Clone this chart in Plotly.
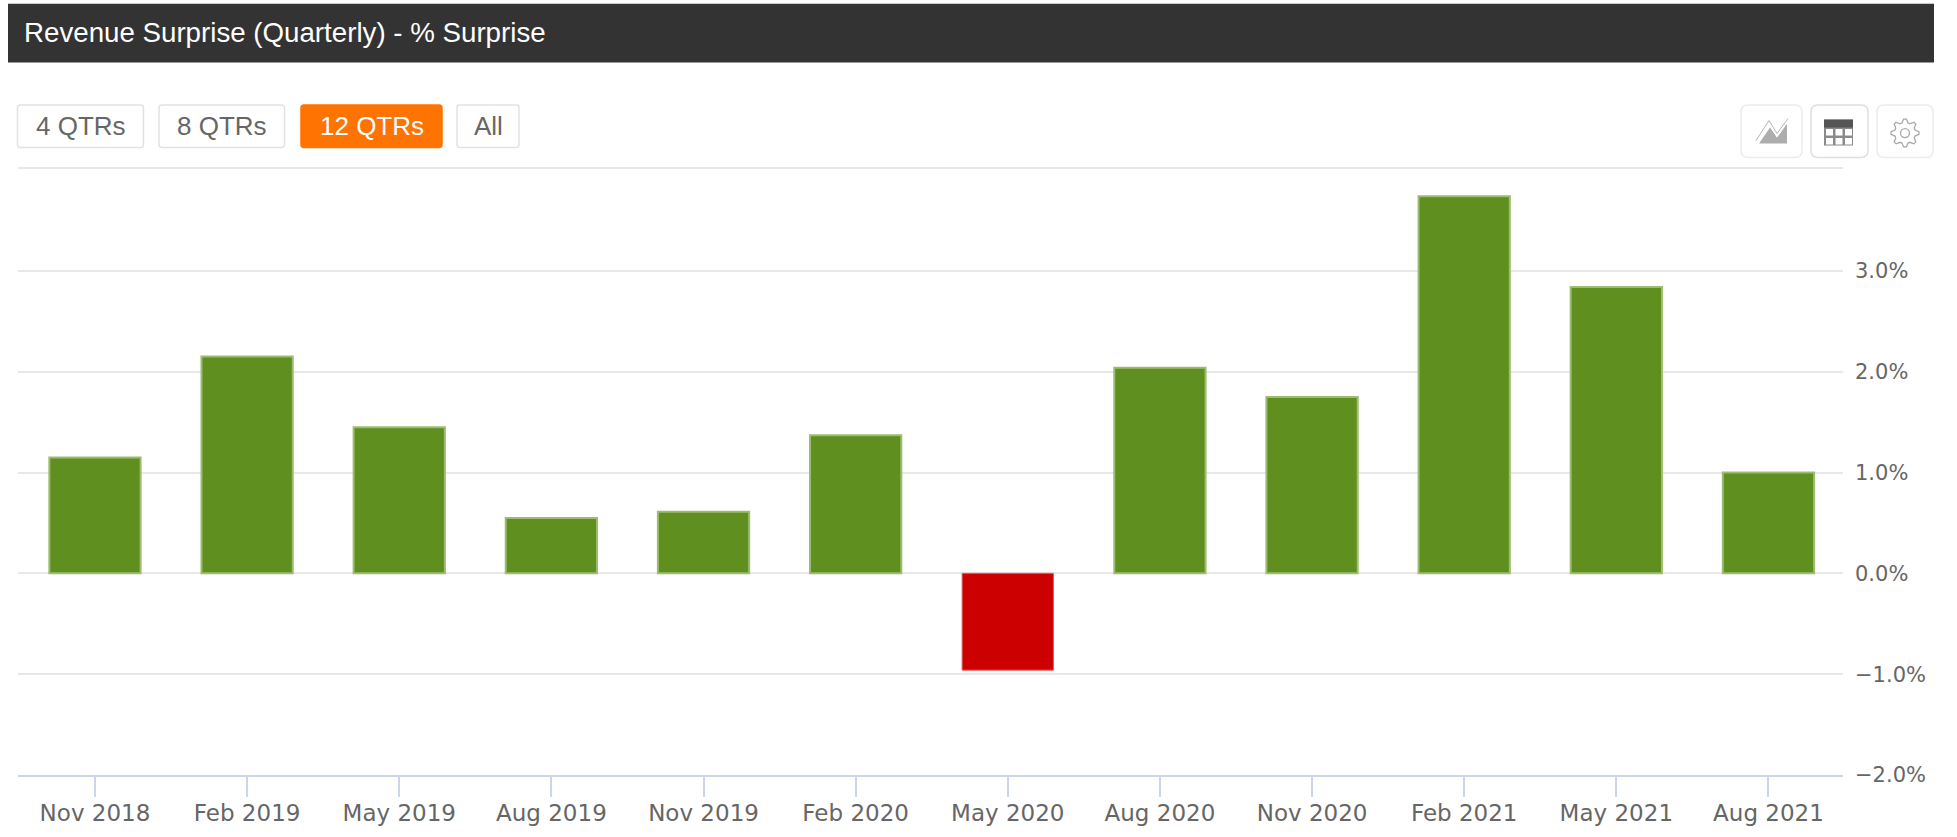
import math
import plotly.graph_objects as go

quarters = ["Nov 2018", "Feb 2019", "May 2019", "Aug 2019", "Nov 2019", "Feb 2020",
            "May 2020", "Aug 2020", "Nov 2020", "Feb 2021", "May 2021", "Aug 2021"]
surprise = [1.15, 2.15, 1.45, 0.55, 0.61, 1.37, -0.96, 2.04, 1.75, 3.74, 2.84, 1.0]
y_ticks = [-2, -1, 0, 1, 2, 3]
y_labels = ["\u22122.0%", "\u22121.0%", "0.0%", "1.0%", "2.0%", "3.0%"]
buttons = ["4 QTRs", "8 QTRs", "12 QTRs", "All"]
title = "Revenue Surprise (Quarterly) - % Surprise"

W, H = 1957, 837
L, R, T, B = 18, 1843, 169.5, 775
px = lambda x: (x - L) / (R - L)
py = lambda y: (B - y) / (B - T)

GREEN, RED = "#5f8f1e", "#cc0000"
GRID = "#e8e8e8"
shapes, annotations = [], []

def rect(x0, y0, x1, y1, fill, line=None, width=0, r=0):
    X0, X1, Y0, Y1 = px(x0), px(x1), py(y0), py(y1)
    if r:
        rx, ry = r / (R - L), r / (B - T)
        path = (f"M{X0+rx},{Y0} L{X1-rx},{Y0} Q{X1},{Y0} {X1},{Y0-ry} L{X1},{Y1+ry} Q{X1},{Y1} {X1-rx},{Y1} "
                f"L{X0+rx},{Y1} Q{X0},{Y1} {X0},{Y1+ry} L{X0},{Y0-ry} Q{X0},{Y0} {X0+rx},{Y0} Z")
        shapes.append(dict(type="path", path=path, xref="paper", yref="paper", fillcolor=fill,
                           line=dict(color=line or fill, width=width), layer="below"))
    else:
        shapes.append(dict(type="rect", xref="paper", yref="paper", x0=X0, x1=X1, y0=Y0, y1=Y1,
                           fillcolor=fill, line=dict(color=line or fill, width=width), layer="below"))

def poly(points, fill, line=None, width=0):
    path = "M" + " L".join(f"{px(x)},{py(y)}" for x, y in points) + " Z"
    shapes.append(dict(type="path", path=path, xref="paper", yref="paper", fillcolor=fill,
                       line=dict(color=line or fill, width=width)))

def polyline(points, color, width):
    path = "M" + " L".join(f"{px(x)},{py(y)}" for x, y in points)
    shapes.append(dict(type="path", path=path, xref="paper", yref="paper",
                       line=dict(color=color, width=width)))

def text(x, y, s, size, color, anchor="center"):
    annotations.append(dict(x=px(x), y=py(y), xref="paper", yref="paper", text=s, showarrow=False,
                            xanchor=anchor, yanchor="middle",
                            font=dict(family="Liberation Sans", size=size, color=color)))

# header bar
rect(8, 3, 1934, 62, "#333333")
text(22, 32, title, 27.7, "#ffffff", "left")

# range buttons
btn_boxes = [(17.5, 143.5), (159, 284.5), (301, 442), (457, 519)]
for label, (x0, x1) in zip(buttons, btn_boxes):
    active = label == "12 QTRs"
    rect(x0, 104.5, x1, 147, "#ff7300" if active else "#ffffff",
         "#ff7300" if active else "#e2e2e2", 1.5, 3)
    text((x0 + x1) / 2, 125.5, label, 26, "#ffffff" if active else "#666666")

# rule above the plot area
polyline([(L, 167.5), (R, 167.5)], GRID, 2)

# tool buttons
for x0, x1, col in [(1741, 1802, "#ececec"), (1811, 1868, "#dedede"), (1877, 1933, "#ececec")]:
    rect(x0, 104.5, x1, 157, "#ffffff", col, 1.5, 7)

# area-chart icon
poly([(1759, 143), (1770, 127), (1777, 137), (1787, 123), (1787, 143)], "#adadad")
polyline([(1756, 141), (1769, 121), (1777, 134), (1788, 119)], "#ffffff", 3)
polyline([(1756, 140), (1769, 120), (1777, 133), (1788, 118)], "#b5b5b5", 1)
# table icon
rect(1824, 119, 1853, 145, "#8a8a8a")
rect(1824, 119, 1853, 127, "#555555")
for cx in (1826, 1835.5, 1845):
    for cy in (128.5, 137.5):
        rect(cx, cy, cx + 7, cy + 6.5, "#ffffff")
# gear icon
cx, cy, teeth = 1905, 132.5, 8
pts = []
for i in range(teeth * 4):
    a = 2 * math.pi * (i - 0.5) / (teeth * 4)
    r_ = 14 if i % 4 < 2 else 10.5
    pts.append((cx + r_ * math.cos(a), cy + r_ * math.sin(a)))
poly(pts, "#ffffff", "#a8a8a8", 1.3)
shapes.append(dict(type="circle", xref="paper", yref="paper", x0=px(cx - 4.5), x1=px(cx + 4.5),
                   y0=py(cy + 4.5), y1=py(cy - 4.5), fillcolor="#ffffff", line=dict(color="#a8a8a8", width=1.3)))

fig = go.Figure(go.Bar(
    x=quarters, y=surprise, width=0.6,
    marker=dict(color=[GREEN if v >= 0 else RED for v in surprise],
                line=dict(color=["#9cbd6f" if v >= 0 else "#e25a5a" for v in surprise],
                          width=[2 if v >= 0 else 1 for v in surprise])),
    showlegend=False,
))
fig.update_layout(
    width=W, height=H, margin=dict(l=L, r=W - R, t=T, b=H - B),
    paper_bgcolor="#ffffff", plot_bgcolor="#ffffff",
    shapes=shapes, annotations=annotations, showlegend=False,
    font=dict(family="DejaVu Sans", size=22, color="#666666"),
)
fig.update_xaxes(type="category", range=[-0.506, 11.49], showgrid=False, zeroline=False,
                 showline=True, linecolor="#ccd6eb", linewidth=2,
                 ticks="outside", ticklen=20, tickwidth=2, tickcolor="#ccd6eb",
                 tickangle=0, ticklabelstandoff=-4, tickfont=dict(size=23, color="#666666"))
fig.update_yaxes(side="right", range=[-2, 4], tickmode="array", tickvals=y_ticks, ticktext=y_labels,
                 showgrid=True, gridcolor=GRID, gridwidth=2, zeroline=False, showline=False,
                 ticks="", ticklabelstandoff=11, tickfont=dict(size=21, color="#666666"))

fig.write_html("out.html", config=dict(displayModeBar=False),
               post_script="document.body.style.margin='0';document.body.style.overflow='hidden';")
